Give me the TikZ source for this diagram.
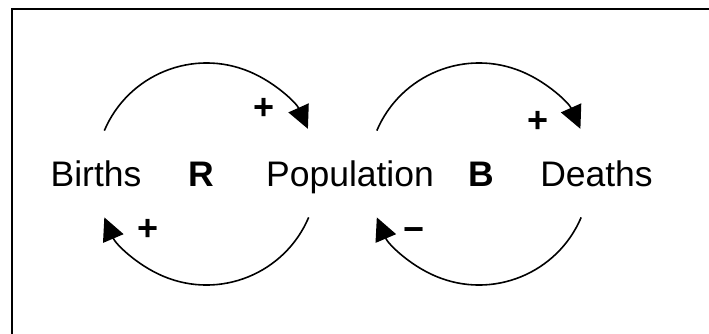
\documentclass[tikz,border=0pt]{standalone}
\usepackage{fontspec}
\setmainfont{Liberation Sans}
\usetikzlibrary{arrows.meta,calc}
\begin{document}
\begin{tikzpicture}[x=1pt,y=1pt,
  lbl/.style={font=\fontsize{35.5}{40}\selectfont, anchor=base, inner sep=0pt},
  loopname/.style={font=\fontsize{35.5}{40}\selectfont\bfseries, anchor=base, inner sep=0pt},
  sign/.style={font=\fontsize{36}{40}\selectfont\bfseries, inner sep=0pt},
  link/.style={line width=1.6pt, -{Triangle[length=23pt,width=22pt]}},
  frame/.style={line width=2pt}
]
\useasboundingbox (0,0) rectangle (709,333);
% frame
\draw[frame] (12,-5) -- (12,324) -- (715,324);
% variables and loop names
\node[lbl] (births) at (96,147) {Births};
\node[loopname] (R) at (201.5,147) {R};
\node[lbl] (pop) at (350,147) {Population};
\node[loopname] (B) at (481.5,147) {B};
\node[lbl] (deaths) at (596.5,147) {Deaths};
% loop centres
\coordinate (cR) at (206.5,159);
\coordinate (cB) at (479,159);
% arc start points
\coordinate (r1) at ($(cR)+(157:111)$);
\coordinate (r2) at ($(cR)+(-23:111)$);
\coordinate (b1) at ($(cB)+(157:111)$);
\coordinate (b2) at ($(cB)+(-23:111)$);
% links
\draw[link] (r1) arc[start angle=157, end angle=24, radius=111];
\draw[link] (r2) arc[start angle=-23, end angle=-157, radius=111];
\draw[link] (b1) arc[start angle=157, end angle=24, radius=111];
\draw[link] (b2) arc[start angle=-23, end angle=-157, radius=111];
% polarity signs
\node[sign] (p1) at (264,224) {+};
\node[sign] (p2) at (538,211) {+};
\node[sign] (p3) at (148,103) {+};
\node[sign] (m1) at (414.5,98) {−};
\end{tikzpicture}
\end{document}
